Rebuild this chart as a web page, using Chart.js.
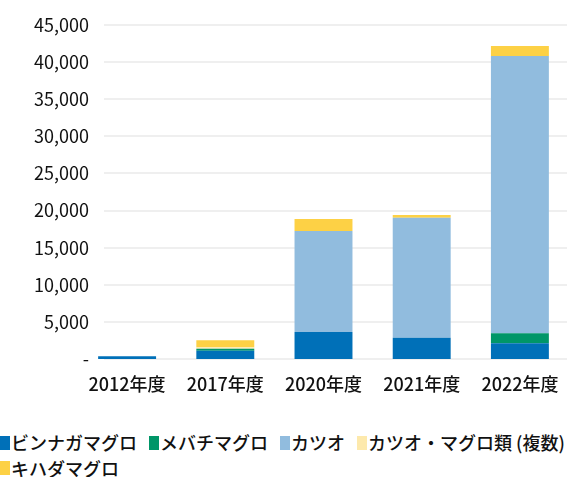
<!DOCTYPE html>
<html lang="ja">
<head>
<meta charset="utf-8">
<script src="https://cdn.jsdelivr.net/npm/chart.js@4.4.1/dist/chart.umd.min.js"></script>
<style>
    html, body { margin: 0; padding: 0; background: #fff; overflow: hidden; }
    #wrap { position: relative; width: 573px; height: 477px; }
    #chart-box { position: absolute; left: 0; top: 0; width: 573px; height: 420px; }
    #legend {
        position: absolute; left: 0; top: 430px; width: 580px;
        display: flex; flex-wrap: wrap;
        font-family: "Noto Sans CJK JP", "Noto Sans", sans-serif;
        font-size: 18px; font-weight: 500; line-height: 25.5px; color: #111;
    }
    .item { display: flex; align-items: center; white-space: nowrap; margin-right: 12px; }
    .box { display: inline-block; width: 10px; height: 14px; margin-right: 1px; }
</style>
</head>
<body>
<div id="wrap">
    <div id="chart-box"><canvas id="tuna-chart" width="573" height="420"></canvas></div>
    <div id="legend"></div>
</div>
<script>
/* Catch by species per fiscal year (stacked) */
var years = ["2012年度", "2017年度", "2020年度", "2021年度", "2022年度"];
var speciesNames = ["ビンナガマグロ", "メバチマグロ", "カツオ", "カツオ・マグロ類 (複数)", "キハダマグロ"];
var speciesColors = ["#0070b8", "#009668", "#91bcde", "#fde9ac", "#fdd145"];

var albacore = [380, 1100, 3650, 2850, 2130];
var bigeye = [0, 270, 0, 0, 1350];
var skipjack = [0, 0, 13580, 16180, 37350];
var mixedTuna = [0, 220, 0, 0, 0];
var yellowfin = [0, 950, 1620, 360, 1350];

var yTicks = [0, 5000, 10000, 15000, 20000, 25000, 30000, 35000, 40000, 45000];

(function () {
    "use strict";

    var series = [albacore, bigeye, skipjack, mixedTuna, yellowfin];
    var FONT = '"Noto Sans CJK JP", "Noto Sans", sans-serif';

    /* light gridlines, drawn only over the plot part (not under tick labels) */
    var gridPlugin = {
        id: "softGrid",
        beforeDatasetsDraw: function (chart) {
            var ctx = chart.ctx;
            var y = chart.scales.y;
            ctx.save();
            ctx.strokeStyle = "#efefef";
            ctx.lineWidth = 2;
            yTicks.forEach(function (v) {
                var py = Math.round(y.getPixelForValue(v));
                ctx.beginPath();
                ctx.moveTo(104, py);
                ctx.lineTo(567, py);
                ctx.stroke();
            });
            ctx.restore();
        }
    };

    var datasets = series.map(function (vals, i) {
        return {
            label: speciesNames[i],
            data: vals,
            backgroundColor: speciesColors[i],
            borderWidth: 0,
            categoryPercentage: 1,
            barPercentage: 0.59
        };
    });

    new Chart(document.getElementById("tuna-chart").getContext("2d"), {
        type: "bar",
        data: { labels: years, datasets: datasets },
        plugins: [gridPlugin],
        options: {
            responsive: false,
            animation: false,
            layout: { padding: { top: 25, right: 4, left: 0, bottom: 0 } },
            plugins: { legend: { display: false }, tooltip: { enabled: false } },
            scales: {
                x: {
                    stacked: true,
                    grid: { display: false },
                    border: { display: false },
                    ticks: { color: "#111", font: { family: FONT, size: 18, weight: 500 }, padding: 6 },
                    afterFit: function (s) { s.height = 61; }
                },
                y: {
                    stacked: true,
                    min: 0,
                    max: 45000,
                    grid: { display: false, drawTicks: false },
                    border: { display: false },
                    afterBuildTicks: function (s) {
                        s.ticks = yTicks.map(function (v) { return { value: v }; });
                    },
                    ticks: {
                        color: "#111",
                        font: { family: FONT, size: 18 },
                        padding: -11,
                        callback: function (v) { return v === 0 ? "-" : v.toLocaleString("en-US"); }
                    },
                    afterFit: function (s) {
                        s.width = 78;
                        /* labels sit a little inside the plot, so don't clip them to the axis box */
                        s._computeLabelArea = function () { return undefined; };
                    }
                }
            }
        }
    });

    /* legend */
    var legend = document.getElementById("legend");
    speciesNames.forEach(function (name, i) {
        var item = document.createElement("span");
        item.className = "item";
        var box = document.createElement("span");
        box.className = "box";
        box.style.background = speciesColors[i];
        var txt = document.createElement("span");
        txt.textContent = name;
        item.appendChild(box);
        item.appendChild(txt);
        legend.appendChild(item);
    });
})();
</script>
</body>
</html>
